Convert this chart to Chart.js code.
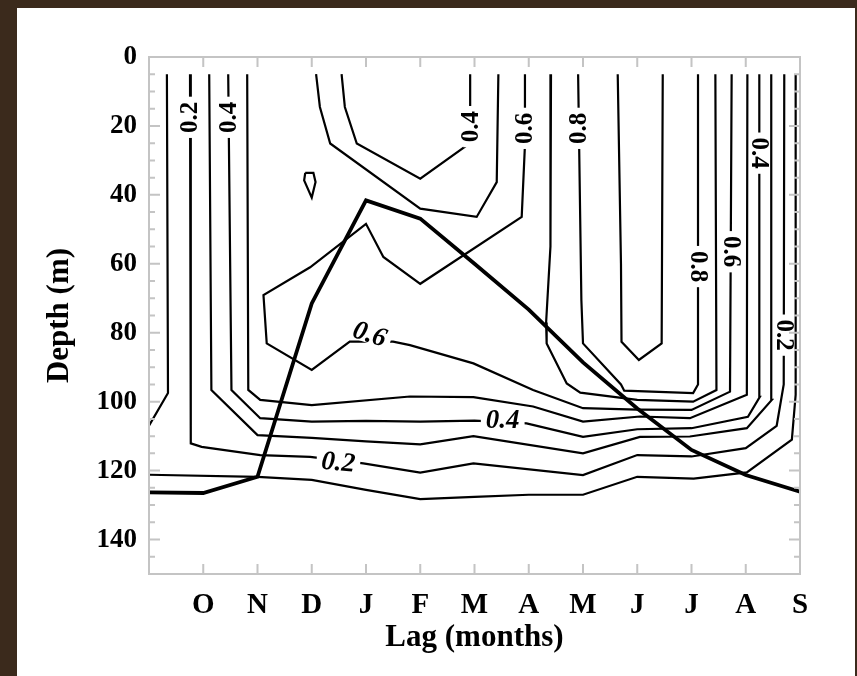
<!DOCTYPE html>
<html>
<head>
<meta charset="utf-8">
<script src="https://cdn.jsdelivr.net/npm/chart.js@4.4.1/dist/chart.umd.min.js"></script>
<style>
  body { margin: 0; background: #3b2a1c; width: 857px; height: 676px; overflow: hidden; }
  #wrap { position: absolute; left: 17px; top: 8px; width: 838px; height: 668px; background: #fff; }
</style>
</head>
<body>
<div id="wrap"><canvas id="lagChart" width="838" height="668"></canvas></div>
<script>
const FONT = "'Liberation Serif', 'DejaVu Serif', serif";

// x = lag in months, 0 = S ... 12 = S; labels for 1..12
const monthLabels = ['O', 'N', 'D', 'J', 'F', 'M', 'A', 'M', 'J', 'J', 'A', 'S'];
const depthTicks = [0, 20, 40, 60, 80, 100, 120, 140];

// thick curve, one value per month (0..12)
const mldLag = [0, 1, 2, 3, 4, 5, 6, 7, 8, 9, 10, 11, 12];
const mldDepth = [126.3, 126.5, 121.8, 71.5, 41.6, 46.9, 60, 73.3, 88.6, 102, 114, 121.3, 126.1];

// contour lines, [lag, depth]
const c01a = [[0.33, 5], [0.35, 97.5], [0, 107]];
const c01b = [[0, 121.2], [2, 121.8], [3, 122.7], [4, 125.6], [5, 128.3], [6, 127.6], [7, 127], [8, 127],
  [9, 121.8], [10.04, 122.3], [11.02, 120.5], [11.85, 111], [11.92, 98], [11.92, 5]];
const c02 = [[0.756, 5], [0.77, 112.1], [0.97, 113.1], [2.05, 115.5], [2.97, 116], [3.95, 117.9], [5, 120.6],
  [5.98, 117.9], [8, 121.3], [9, 115.5], [10, 115.9], [11, 113.5], [11.57, 107], [11.7, 95], [11.71, 5]];
const c03 = [[1.11, 5], [1.15, 96.6], [2, 109.7], [3, 110.5], [4, 111.5], [5, 112.4], [5.98, 110], [8, 115],
  [9.05, 110.2], [9.97, 110.1], [11.02, 107.7], [11.48, 99.5], [11.47, 5]];
const c04 = [[1.46, 5], [1.52, 96.6], [2.05, 104.8], [3, 105.8], [4, 105.6], [5, 105.8], [6, 105.5], [6.96, 106.3],
  [8, 110.2], [9, 108], [10, 107.7], [11.04, 104.4], [11.26, 98.6], [11.25, 5]];
const c05 = [[1.81, 5], [1.83, 96.6], [2.05, 99.5], [3, 101], [4.81, 98.5], [5.98, 98.7], [7.08, 101.4], [8, 105.8],
  [9.05, 104.3], [9.97, 104.8], [11.02, 98], [11.03, 5]];
const c05tongue = [[3.08, 5], [3.15, 14.5], [3.34, 25.1], [5, 44], [6.04, 46.4], [6.41, 36.3], [6.44, 5]];
const c04trough = [[3.55, 5], [3.61, 14.5], [3.83, 25.1], [5, 35.3], [5.89, 25.3], [5.92, 14.5], [5.92, 5]];
const c06 = [[6.93, 5], [6.93, 25.5], [6.87, 46.4], [5, 65.8], [4.32, 58], [4, 48.4], [2.97, 61], [2.11, 69.1],
  [2.17, 83.1], [3, 90.8], [3.7, 82.6], [4.5, 82.6], [4.81, 83.6], [5.98, 88.9], [7.08, 96.6], [8, 101.9],
  [9, 102.3], [10, 102.4], [10.71, 97.1], [10.74, 5]];
const c06loop = [[2.88, 33.6], [3.03, 33.6], [3.07, 36.3], [3, 40.8], [2.86, 35.8], [2.88, 33.6]];
const c07 = [[7.41, 5], [7.4, 55], [7.32, 77], [7.33, 83.1], [7.7, 94.7], [7.95, 97.4], [9, 99.5], [10.03, 100],
  [10.46, 96.6], [10.44, 5]];
const c08 = [[7.91, 5], [7.97, 70.5], [8, 83.1], [8.7, 95], [8.76, 96.8], [10.03, 97.5], [10.12, 95], [10.12, 5]];
const c09 = [[8.64, 5], [8.7, 60], [8.71, 82.6], [9.03, 87.9], [9.45, 83.1], [9.47, 5]];

const contours = [c01a, c01b, c02, c03, c04, c05, c05tongue, c04trough, c06, c06loop, c07, c08, c09];

// contour labels: text, lag, depth, angle (deg)
const labelText = ['0.2', '0.4', '0.4', '0.6', '0.8', '0.8', '0.6', '0.4', '0.2', '0.6', '0.4', '0.2'];
const labelLag = [0.756, 1.46, 5.92, 6.93, 7.91, 10.12, 10.74, 11.25, 11.71, 4.07, 6.52, 3.49];
const labelDepth = [17.5, 17.5, 20.2, 20.7, 20.7, 60.8, 56.5, 27.9, 80.7, 80.4, 105.3, 117.6];
const labelAngle = [-90, -90, -90, -90, -90, 90, 90, 90, 90, 18, 0, 5];

const contourLabels = {
  id: 'contourLabels',
  afterDatasetsDraw(chart) {
    const { ctx, scales: { x, y } } = chart;
    labelText.forEach((t, i) => {
      const flat = Math.abs(labelAngle[i]) < 45;
      ctx.save();
      ctx.translate(x.getPixelForValue(labelLag[i]), y.getPixelForValue(labelDepth[i]));
      ctx.rotate(labelAngle[i] * Math.PI / 180);
      ctx.font = flat ? `italic bold 27px ${FONT}` : `bold 25px ${FONT}`;
      const w = ctx.measureText(t).width;
      const h = flat ? 18 : 14;
      ctx.fillStyle = '#fff';
      ctx.fillRect(-w / 2 - 5, -h / 2, w + 10, h);
      ctx.fillStyle = '#000';
      ctx.textAlign = 'center';
      ctx.textBaseline = 'middle';
      ctx.fillText(t, 0, 1);
      ctx.restore();
    });
  }
};

const frameTicks = {
  id: 'frameTicks',
  afterDraw(chart) {
    const { ctx, chartArea: a, scales: { x, y } } = chart;
    ctx.save();
    ctx.strokeStyle = '#c4c4c4';
    ctx.lineWidth = 2;
    ctx.strokeRect(a.left, a.top, a.right - a.left, a.bottom - a.top);
    ctx.beginPath();
    for (let v = 5; v < 150; v += 5) {
      const py = y.getPixelForValue(v);
      const len = v % 20 === 0 ? 11 : 6;
      ctx.moveTo(a.left, py); ctx.lineTo(a.left + len, py);
      ctx.moveTo(a.right, py); ctx.lineTo(a.right - len, py);
    }
    for (let m = 1; m < 12; m++) {
      const px = x.getPixelForValue(m);
      ctx.moveTo(px, a.top); ctx.lineTo(px, a.top + 10);
      ctx.moveTo(px, a.bottom); ctx.lineTo(px, a.bottom - 10);
    }
    ctx.stroke();
    ctx.restore();
  }
};

const datasets = [{
  data: mldLag.map((m, i) => ({ x: m, y: mldDepth[i] })),
  showLine: true,
  borderColor: '#000',
  borderWidth: 3.8,
  pointRadius: 0,
  tension: 0
}].concat(contours.map(c => ({
  data: c.map(p => ({ x: p[0], y: p[1] })),
  showLine: true,
  borderColor: '#000',
  borderWidth: 2.2,
  pointRadius: 0,
  tension: 0
})));

new Chart(document.getElementById('lagChart'), {
  type: 'scatter',
  data: { datasets: datasets },
  plugins: [contourLabels, frameTicks],
  options: {
    responsive: false,
    animation: false,
    layout: { padding: { left: 0, right: 55, top: 49, bottom: 0 } },
    plugins: { legend: { display: false }, tooltip: { enabled: false } },
    scales: {
      x: {
        type: 'linear',
        min: 0,
        max: 12,
        afterFit: s => { s.height = 102; },
        afterBuildTicks: s => { s.ticks = monthLabels.map((_, i) => ({ value: i + 1 })); },
        grid: { display: false, drawTicks: false },
        border: { display: false },
        ticks: {
          padding: 14,
          maxRotation: 0,
          autoSkip: false,
          color: '#000',
          font: { family: FONT, size: 29, weight: 'bold' },
          callback: v => monthLabels[v - 1] || ''
        },
        title: {
          display: true,
          text: 'Lag (months)',
          color: '#000',
          font: { family: FONT, size: 31, weight: 'bold' },
          padding: { top: 0, bottom: 19 }
        }
      },
      y: {
        type: 'linear',
        reverse: true,
        min: 0,
        max: 150,
        afterFit: s => { s.width = 132; },
        afterBuildTicks: s => { s.ticks = depthTicks.map(v => ({ value: v })); },
        grid: { display: false, drawTicks: false },
        border: { display: false },
        ticks: {
          padding: 12,
          color: '#000',
          font: { family: FONT, size: 27, weight: 'bold' }
        },
        title: {
          display: true,
          text: 'Depth (m)',
          color: '#000',
          font: { family: FONT, size: 31, weight: 'bold' },
          padding: { top: 24, bottom: 0 }
        }
      }
    }
  }
});
</script>
</body>
</html>
